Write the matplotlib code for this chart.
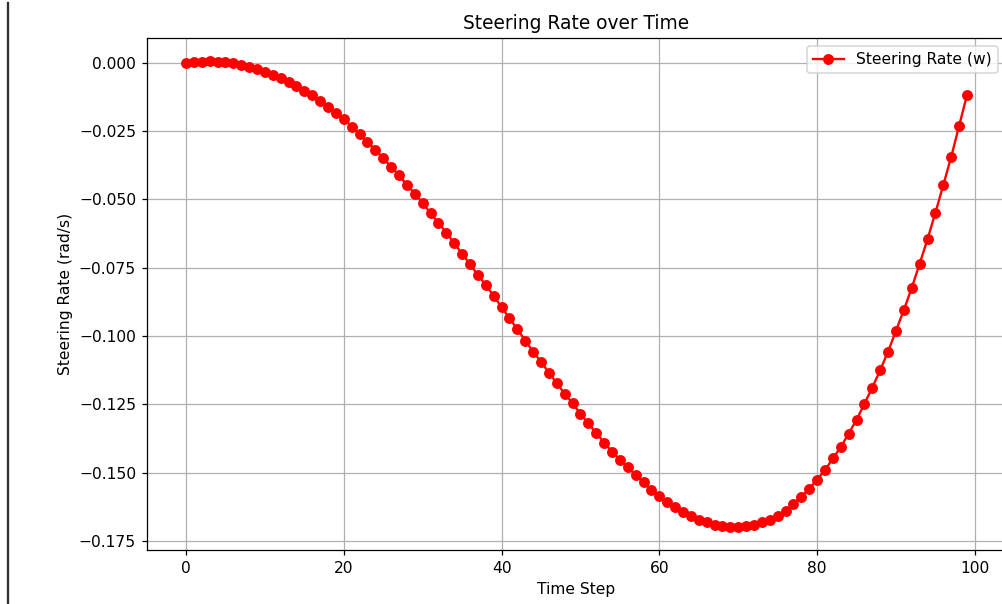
import numpy as np
import matplotlib
matplotlib.use("Agg")
import matplotlib.pyplot as plt
from matplotlib.lines import Line2D

# steering rate per time step
w = [0.0000, 0.0002, 0.0004, 0.0005, 0.0004, 0.0002, -0.0002, -0.0008, -0.0016, -0.0025,
     -0.0035, -0.0045, -0.0057, -0.0071, -0.0086, -0.0103, -0.0120, -0.0140, -0.0161, -0.0183,
     -0.0207, -0.0234, -0.0262, -0.0289, -0.0319, -0.0350, -0.0381, -0.0412, -0.0447, -0.0479,
     -0.0514, -0.0551, -0.0586, -0.0622, -0.0661, -0.0699, -0.0738, -0.0777, -0.0814, -0.0853,
     -0.0895, -0.0935, -0.0975, -0.1017, -0.1057, -0.1095, -0.1134, -0.1173, -0.1211, -0.1247,
     -0.1284, -0.1320, -0.1355, -0.1390, -0.1423, -0.1453, -0.1481, -0.1509, -0.1536, -0.1563,
     -0.1586, -0.1607, -0.1626, -0.1643, -0.1658, -0.1672, -0.1682, -0.1691, -0.1695, -0.1698,
     -0.1698, -0.1695, -0.1691, -0.1682, -0.1672, -0.1660, -0.1639, -0.1615, -0.1588, -0.1559,
     -0.1526, -0.1491, -0.1448, -0.1407, -0.1357, -0.1307, -0.1248, -0.1189, -0.1125, -0.1057,
     -0.0981, -0.0905, -0.0824, -0.0736, -0.0646, -0.0549, -0.0448, -0.0345, -0.0232, -0.0119]
t = np.arange(len(w))

DPI = 112  # screenshot is a slightly enlarged figure
fig = plt.figure(figsize=(1002/DPI, 604/DPI), dpi=DPI)
# axes runs a bit past the right edge, like the cropped screenshot
ax = fig.add_axes([147/1002, 54/604, 859/1002, 512/604])

ax.plot(t, w, 'o-', color='red', label='Steering Rate (w)')
ax.set_title("Steering Rate over Time")
ax.set_xlabel("Time Step")
ax.set_ylabel("Steering Rate (rad/s)")
ax.grid(True)
ax.legend(loc='upper right')

# page border line at the far left of the screenshot
fig.add_artist(Line2D([8/1002, 8/1002], [0, 1 - 3/604], transform=fig.transFigure,
                      color='#333333', linewidth=1.5))

plt.savefig("out.png", dpi=DPI)
